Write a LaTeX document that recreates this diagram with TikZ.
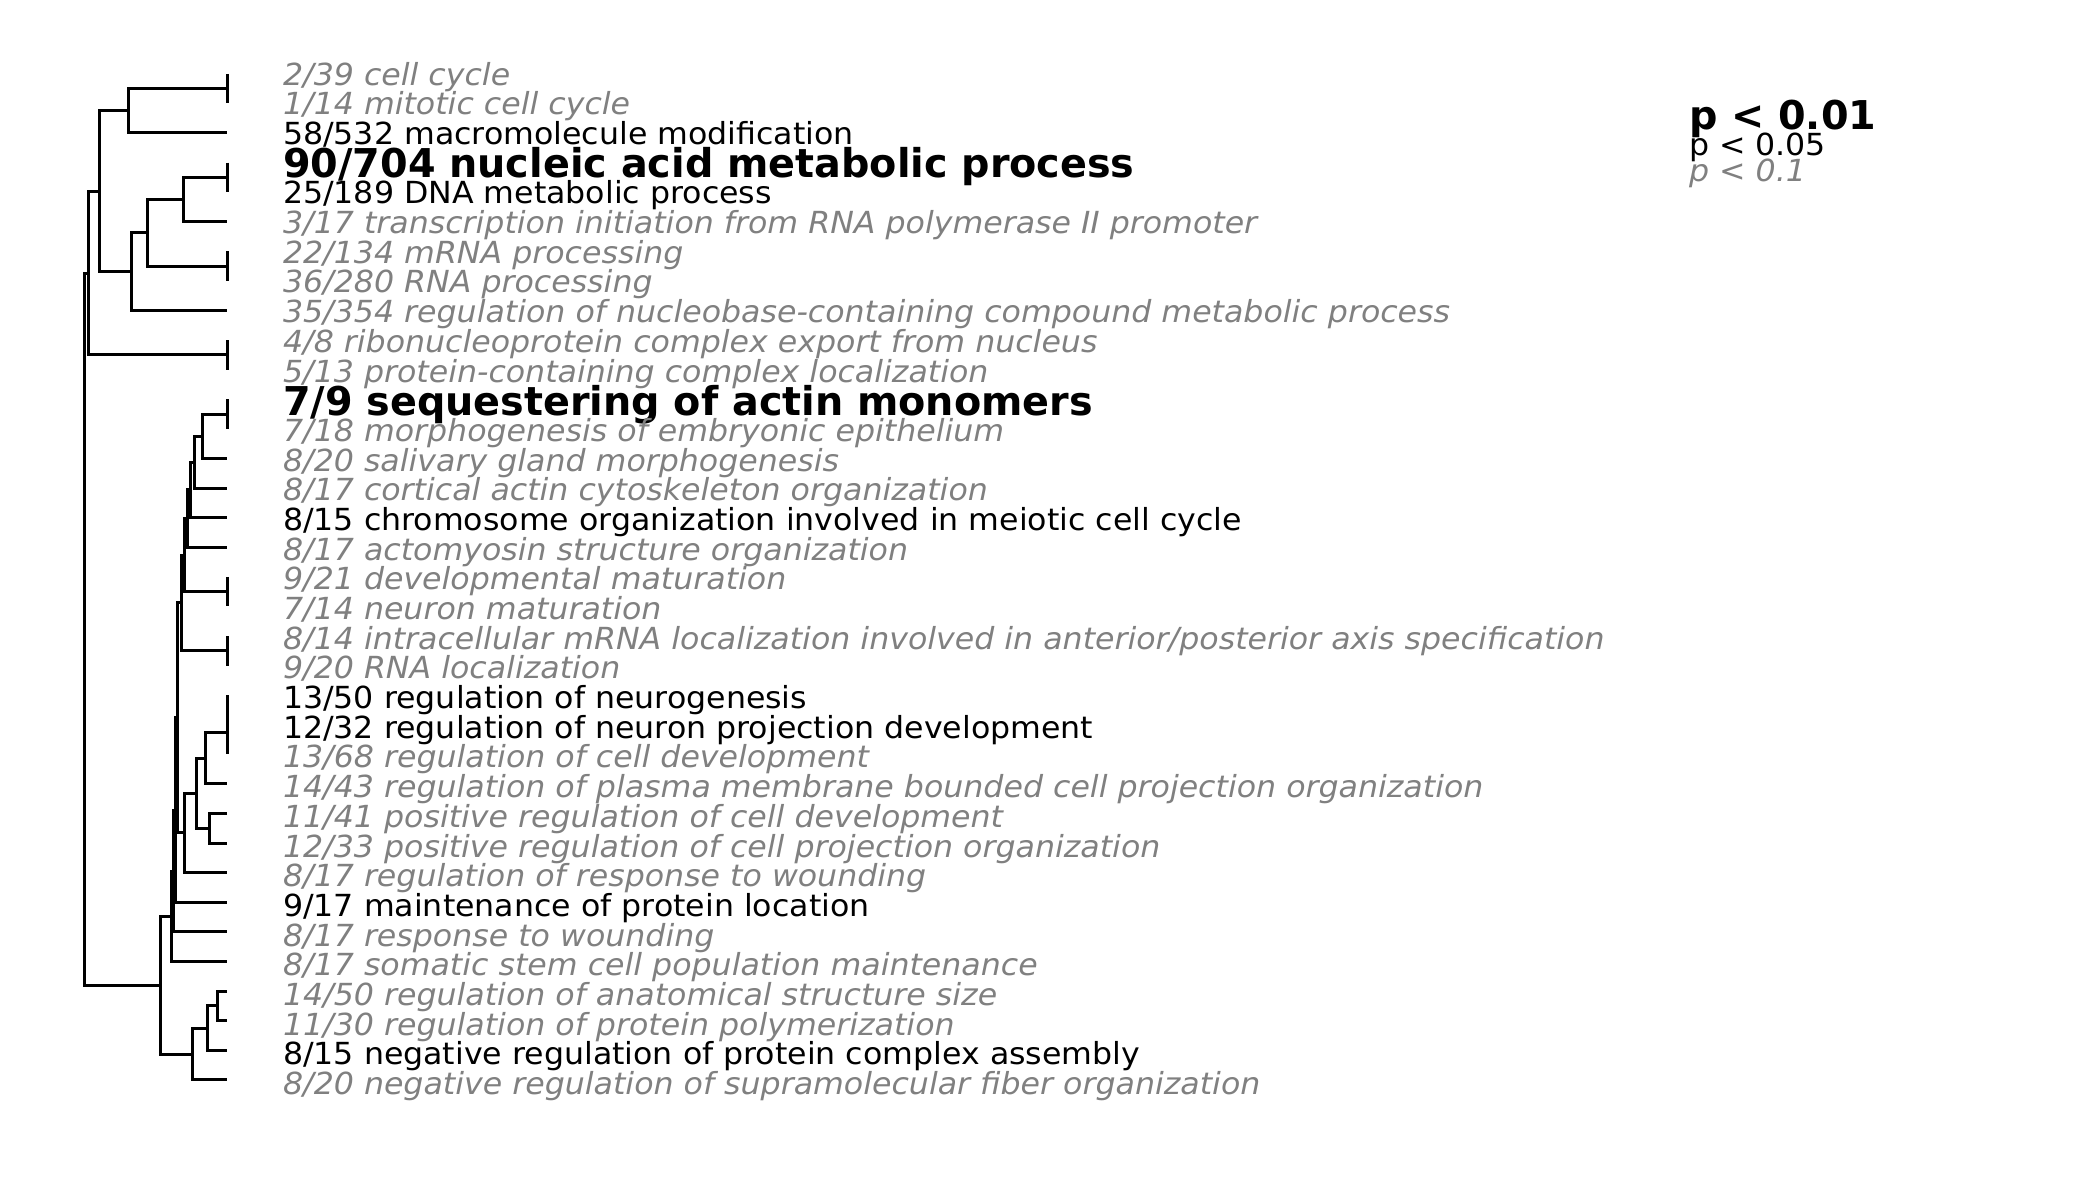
\documentclass[tikz,border=0pt]{standalone}
\usepackage{fontspec}
\setmainfont{DejaVu Sans}
\newfontfamily\lblfont[FakeStretch=1.04]{DejaVu Sans}
\definecolor{pgray}{HTML}{808080}
\tikzset{
  dend/.style={line width=3pt, line join=miter, draw=black},
  lblbase/.style={anchor=base west, inner sep=0pt, outer sep=0pt},
  g/.style={lblbase, yshift=-11.1pt, font=\lblfont\fontsize{30.4}{36}\selectfont\itshape, text=pgray},
  k/.style={lblbase, yshift=-11.1pt, font=\lblfont\fontsize{30.4}{36}\selectfont, text=black},
  bb/.style={lblbase, yshift=-14.5pt, font=\fontsize{39.7}{48}\selectfont\bfseries, text=black},
}
\begin{document}
\begin{tikzpicture}[x=1pt,y=-1pt]
\fill[white] (0,0) rectangle (2100,1200);
\useasboundingbox (0,0) rectangle (2100,1200);

% labels
\node[g]  (l1)  at (283,74.00)   {2/39 cell cycle};
\node[g]  (l2)  at (283,103.69) {1/14 mitotic cell cycle};
\node[k]  (l3)  at (283,133.38) {58/532 macromolecule modification};
\node[bb] (l4)  at (283,163.07) {90/704 nucleic acid metabolic process};
\node[k]  (l5)  at (283,192.76) {25/189 DNA metabolic process};
\node[g]  (l6)  at (283,222.45) {3/17 transcription initiation from RNA polymerase II promoter};
\node[g]  (l7)  at (283,252.14) {22/134 mRNA processing};
\node[g]  (l8)  at (283,281.83) {36/280 RNA processing};
\node[g]  (l9)  at (283,311.52) {35/354 regulation of nucleobase-containing compound metabolic process};
\node[g]  (l10) at (283,341.21) {4/8 ribonucleoprotein complex export from nucleus};
\node[g]  (l11) at (283,370.90) {5/13 protein-containing complex localization};
\node[bb] (l12) at (283,400.59) {7/9 sequestering of actin monomers};
\node[g]  (l13) at (283,430.28) {7/18 morphogenesis of embryonic epithelium};
\node[g]  (l14) at (283,459.97) {8/20 salivary gland morphogenesis};
\node[g]  (l15) at (283,489.66) {8/17 cortical actin cytoskeleton organization};
\node[k]  (l16) at (283,519.35) {8/15 chromosome organization involved in meiotic cell cycle};
\node[g]  (l17) at (283,549.04) {8/17 actomyosin structure organization};
\node[g]  (l18) at (283,578.73) {9/21 developmental maturation};
\node[g]  (l19) at (283,608.42) {7/14 neuron maturation};
\node[g]  (l20) at (283,638.11) {8/14 intracellular mRNA localization involved in anterior/posterior axis specification};
\node[g]  (l21) at (283,667.80) {9/20 RNA localization};
\node[k]  (l22) at (283,697.49) {13/50 regulation of neurogenesis};
\node[k]  (l23) at (283,727.18) {12/32 regulation of neuron projection development};
\node[g]  (l24) at (283,756.87) {13/68 regulation of cell development};
\node[g]  (l25) at (283,786.56) {14/43 regulation of plasma membrane bounded cell projection organization};
\node[g]  (l26) at (283,816.25) {11/41 positive regulation of cell development};
\node[g]  (l27) at (283,845.94) {12/33 positive regulation of cell projection organization};
\node[g]  (l28) at (283,875.63) {8/17 regulation of response to wounding};
\node[k]  (l29) at (283,905.32) {9/17 maintenance of protein location};
\node[g]  (l30) at (283,935.01) {8/17 response to wounding};
\node[g]  (l31) at (283,964.70) {8/17 somatic stem cell population maintenance};
\node[g]  (l32) at (283,994.39) {14/50 regulation of anatomical structure size};
\node[g]  (l33) at (283,1024.08) {11/30 regulation of protein polymerization};
\node[k]  (l34) at (283,1053.77) {8/15 negative regulation of protein complex assembly};
\node[g]  (l35) at (283,1083.46) {8/20 negative regulation of supramolecular fiber organization};

% legend
\node[lblbase, font=\fontsize{39.7}{48}\selectfont\bfseries] (p1) at (1689,129.5) {p < 0.01};
\node[lblbase, font=\lblfont\fontsize{30.4}{36}\selectfont] (p2) at (1689,155.5) {p < 0.05};
\node[lblbase, font=\lblfont\fontsize{30.4}{36}\selectfont\itshape, text=pgray] (p3) at (1689,181.5) {p < 0.1};

% leaves
\coordinate (LA) at (227,88.6);
\coordinate (L3) at (227,132.98);
\coordinate (LB) at (227,177.37);
\coordinate (L6) at (227,221.75);
\coordinate (LC) at (227,266.13);
\coordinate (L9) at (227,310.52);
\coordinate (LD) at (227,354.9);
\coordinate (LE) at (227,414.1);
\coordinate (L14) at (227,458.47);
\coordinate (L15) at (227,488.06);
\coordinate (L16) at (227,517.65);
\coordinate (L17) at (227,547.24);
\coordinate (LF) at (227,591.6);
\coordinate (LG) at (227,650.8);
\coordinate (LH) at (227,732.2);
\coordinate (L25) at (227,783.96);
\coordinate (L26) at (227,813.55);
\coordinate (L27) at (227,843.14);
\coordinate (L28) at (227,872.73);
\coordinate (L29) at (227,902.32);
\coordinate (L30) at (227,931.91);
\coordinate (L31) at (227,961.5);
\coordinate (L32) at (227,991.09);
\coordinate (L33) at (227,1020.68);
\coordinate (L34) at (227,1050.27);
\coordinate (L35) at (227,1079.86);

% leaf ticks
\coordinate (LAt) at (227,73.8);   \coordinate (LAb) at (227,103.39);
\coordinate (LBt) at (227,162.57); \coordinate (LBb) at (227,192.16);
\coordinate (LCt) at (227,251.34); \coordinate (LCb) at (227,280.93);
\coordinate (LDt) at (227,340.11); \coordinate (LDb) at (227,369.7);
\coordinate (LEt) at (227,399.29); \coordinate (LEb) at (227,428.88);
\coordinate (LFt) at (227,576.83); \coordinate (LFb) at (227,606.42);
\coordinate (LGt) at (227,636.01); \coordinate (LGb) at (227,665.6);
\coordinate (LHt) at (227,695.19); \coordinate (LHb) at (227,754.37);
\foreach \t in {A,B,C,D,E,F,G,H} \draw[dend] (L\t t) -- (L\t b);

% internal nodes
\coordinate (n1) at (128.3,110.8);
\coordinate (n2) at (183.3,199.56);
\coordinate (n3) at (147.7,232.85);
\coordinate (n4) at (131,271.7);
\coordinate (n5) at (99.3,191.25);
\coordinate (n6) at (88.3,273.1);
\coordinate (m1) at (202.3,436.3);
\coordinate (m2) at (194.7,462.2);
\coordinate (m3) at (190,489.9);
\coordinate (m4) at (187.2,518.55);
\coordinate (m5) at (184.3,555.1);
\coordinate (m6) at (181,602.95);
\coordinate (b1) at (205,758.1);
\coordinate (b2) at (209,828.3);
\coordinate (b3) at (196.7,793.2);
\coordinate (b4) at (184,832.95);
\coordinate (m7) at (177.6,717.95);
\coordinate (m8) at (175.8,810.1);
\coordinate (m9) at (173.5,871.0);
\coordinate (m10) at (171.2,916.25);
\coordinate (c1) at (217,1005.9);
\coordinate (c2) at (207,1028.1);
\coordinate (c3) at (192.7,1054.0);
\coordinate (m11) at (160,985.1);
\coordinate (root) at (84.3,629.1);

\draw[dend] (LA) -| (n1) |- (L3);
\draw[dend] (LB) -| (n2) |- (L6);
\draw[dend] (n2) -| (n3) |- (LC);
\draw[dend] (n3) -| (n4) |- (L9);
\draw[dend] (n1) -| (n5) |- (n4);
\draw[dend] (n5) -| (n6) |- (LD);
\draw[dend] (LE) -| (m1) |- (L14);
\draw[dend] (m1) -| (m2) |- (L15);
\draw[dend] (m2) -| (m3) |- (L16);
\draw[dend] (m3) -| (m4) |- (L17);
\draw[dend] (m4) -| (m5) |- (LF);
\draw[dend] (m5) -| (m6) |- (LG);
\draw[dend] (LH) -| (b1) |- (L25);
\draw[dend] (L26) -| (b2) |- (L27);
\draw[dend] (b1) -| (b3) |- (b2);
\draw[dend] (b3) -| (b4) |- (L28);
\draw[dend] (m6) -| (m7) |- (b4);
\draw[dend] (m7) -| (m8) |- (L29);
\draw[dend] (m8) -| (m9) |- (L30);
\draw[dend] (m9) -| (m10) |- (L31);
\draw[dend] (L32) -| (c1) |- (L33);
\draw[dend] (c1) -| (c2) |- (L34);
\draw[dend] (c2) -| (c3) |- (L35);
\draw[dend] (m10) -| (m11) |- (c3);
\draw[dend] (n6) -| (root) |- (m11);
\end{tikzpicture}
\end{document}
